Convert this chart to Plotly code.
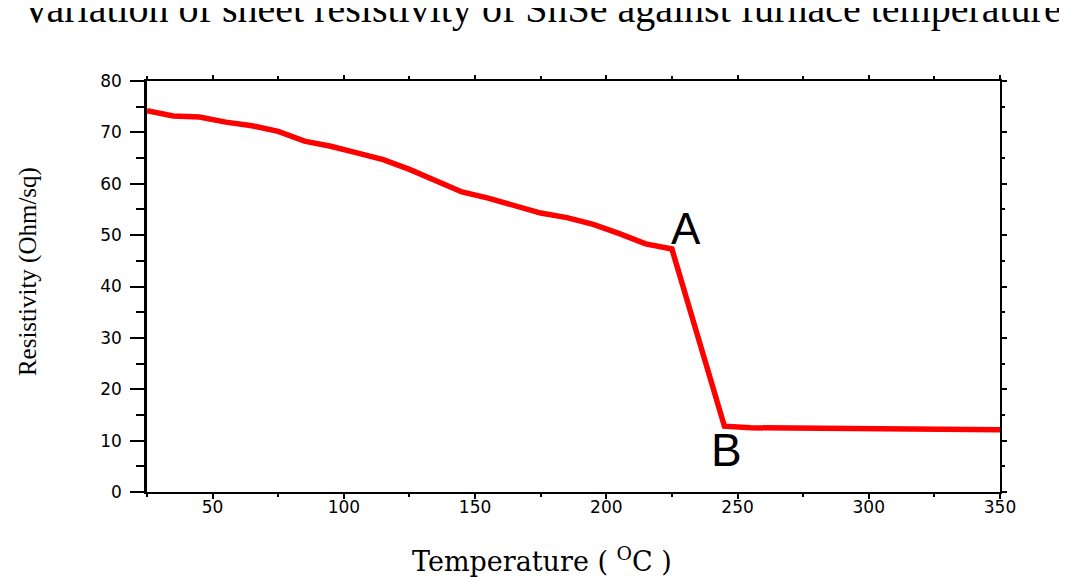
import plotly.graph_objects as go

temperature = [25, 35, 45, 55, 65, 75, 85, 95, 105, 115, 125, 135, 145, 155, 165, 175, 185, 195, 205, 215, 225, 245, 255, 275, 300, 325, 350]
resistivity = [74.2, 73.2, 73.0, 72.0, 71.3, 70.2, 68.3, 67.3, 66.0, 64.7, 62.8, 60.5, 58.4, 57.2, 55.8, 54.3, 53.4, 52.1, 50.3, 48.3, 47.3, 12.8, 12.5, 12.4, 12.3, 12.2, 12.1]

x_ticks = [50, 100, 150, 200, 250, 300, 350]
y_ticks = [0, 10, 20, 30, 40, 50, 60, 70, 80]
x_range = [25, 350]
y_range = [0, 80]

tick_font = dict(family="DejaVu Sans, Verdana", size=17, color="black")
serif = "Liberation Serif, Times New Roman"

fig = go.Figure()
fig.add_trace(go.Scatter(x=temperature, y=resistivity, mode="lines",
                         line=dict(color="#ff0000", width=5.5), showlegend=False))

fig.update_layout(
    width=1067, height=577,
    paper_bgcolor="white", plot_bgcolor="white",
    margin=dict(l=139, r=75, t=73, b=93),
    xaxis=dict(range=x_range, tickvals=x_ticks, ticks="outside", ticklen=5, tickwidth=1.5,
               tickcolor="black", showline=True, linecolor="black", linewidth=2,
               showgrid=False, zeroline=False, automargin=False, tickfont=tick_font,
               ticklabelstandoff=-6,
               minor=dict(dtick=25, tick0=0, ticks="outside", ticklen=3, tickcolor="black")),
    yaxis=dict(range=y_range, tickvals=y_ticks, ticks="outside", ticklen=14, tickwidth=1.5,
               tickcolor="black", showline=True, linecolor="black", linewidth=2.5,
               showgrid=False, zeroline=False, automargin=False, tickfont=tick_font,
               ticklabelstandoff=5,
               minor=dict(dtick=5, tick0=0, ticks="outside", ticklen=8, tickcolor="black")),
    xaxis2=dict(range=x_range, overlaying="x", side="top", anchor="y", tickvals=x_ticks,
                ticks="outside", ticklen=4, tickwidth=1.5, tickcolor="black",
                showline=True, linecolor="black", linewidth=2, showticklabels=False,
                showgrid=False, zeroline=False, automargin=False,
                minor=dict(dtick=25, tick0=0, ticks="outside", ticklen=3, tickcolor="black")),
    yaxis2=dict(range=y_range, overlaying="y", side="right", anchor="x", tickvals=y_ticks,
                ticks="outside", ticklen=5, tickwidth=1.5, tickcolor="black",
                showline=True, linecolor="black", linewidth=2, showticklabels=False,
                showgrid=False, zeroline=False, automargin=False,
                minor=dict(dtick=5, tick0=0, ticks="outside", ticklen=3, tickcolor="black")),
)

fig.add_trace(go.Scatter(x=[], y=[], xaxis="x2", yaxis="y2", showlegend=False, hoverinfo="skip"))

fig.add_annotation(x=230.2, y=51.2, xref="x", yref="y", text="A", showarrow=False,
                   font=dict(family="Liberation Sans, Arial", size=44, color="black"))
fig.add_annotation(x=245.8, y=8.2, xref="x", yref="y", text="B", showarrow=False,
                   font=dict(family="Liberation Sans, Arial", size=46, color="black"))

# axis titles
fig.add_annotation(x=0.463, y=0, xref="paper", yref="paper", yshift=-67,
                   xanchor="center", yanchor="middle", showarrow=False,
                   text="Temperature ( <sup>O</sup>C )",
                   font=dict(family="DejaVu Serif, " + serif, size=27, color="black"))
fig.add_annotation(x=0, y=0.535, xref="paper", yref="paper", xshift=-119,
                   xanchor="center", yanchor="middle", showarrow=False, textangle=-90,
                   text="Resistivity (Ohm/sq)",
                   font=dict(family=serif, size=25, color="black"))

# chart title (partially cut off at the top edge, as in the original)
fig.add_annotation(x=0.463, y=1, xref="paper", yref="paper", yshift=73,
                   xanchor="center", yanchor="middle", showarrow=False,
                   text="Variation of sheet resistivity of SnSe against furnace temperature",
                   font=dict(family=serif, size=40, color="black"))

fig.write_html("out.html")
